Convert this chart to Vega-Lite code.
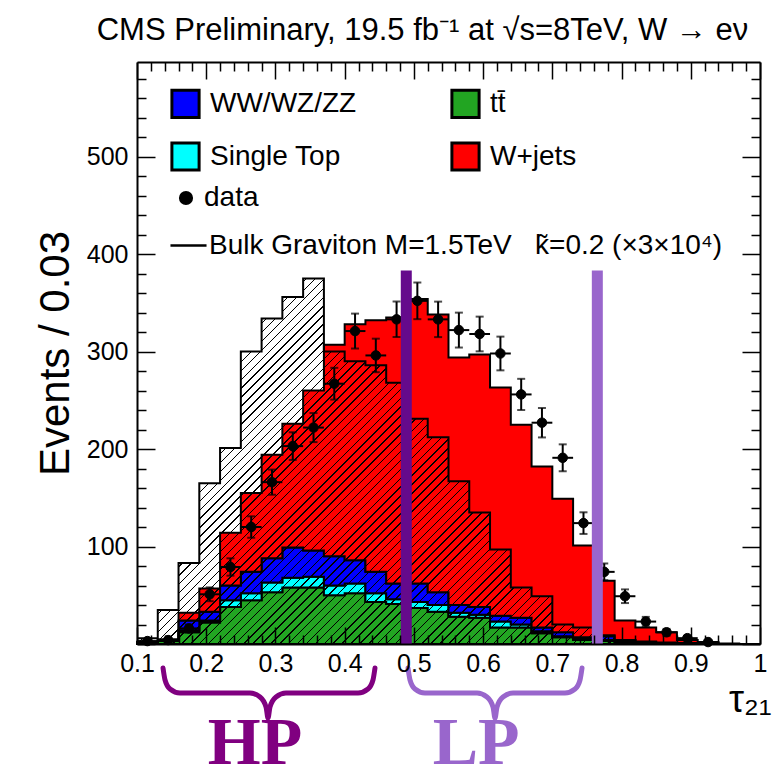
{
"$schema":"https://vega.github.io/schema/vega-lite/v6.json",
"width":623,"height":582,
"autosize":{"type":"none"},
"padding":{"left":137,"top":62,"right":14,"bottom":136},
"background":"white",
"config":{"view":{"stroke":null},"font":"Liberation Sans"},
"title":{"text":"CMS Preliminary, 19.5 fb⁻¹ at √s=8TeV, W → eν","anchor":"middle","frame":"group","dx":-26,"offset":-10,"baseline":"alphabetic","fontSize":31,"font":"Liberation Sans","fontWeight":"normal","color":"black"},
"datasets":{
"hist":[
{"x0":0.10,"x1":0.13,"xc":0.115,"1_ttbar":0.8,"2_singletop":0.1,"3_diboson":0.3,"4_wjets":1,"sig":6,"n":3,"nlo":1.3,"nhi":4.7},
{"x0":0.13,"x1":0.16,"xc":0.145,"1_ttbar":3,"2_singletop":0.5,"3_diboson":0.5,"4_wjets":1,"sig":35,"n":4,"nlo":2,"nhi":6},
{"x0":0.16,"x1":0.19,"xc":0.175,"1_ttbar":12,"2_singletop":2,"3_diboson":10,"4_wjets":8,"sig":83,"n":16,"nlo":12,"nhi":20},
{"x0":0.19,"x1":0.22,"xc":0.205,"1_ttbar":22,"2_singletop":2,"3_diboson":9,"4_wjets":24,"sig":165,"n":51,"nlo":43.9,"nhi":58.1},
{"x0":0.22,"x1":0.25,"xc":0.235,"1_ttbar":38,"2_singletop":7,"3_diboson":15,"4_wjets":54,"sig":201,"n":79,"nlo":70.1,"nhi":87.9},
{"x0":0.25,"x1":0.28,"xc":0.265,"1_ttbar":45,"2_singletop":7,"3_diboson":22,"4_wjets":81,"sig":300,"n":120,"nlo":109,"nhi":131},
{"x0":0.28,"x1":0.31,"xc":0.295,"1_ttbar":53,"2_singletop":10,"3_diboson":25,"4_wjets":106,"sig":334,"n":166,"nlo":153.1,"nhi":178.9},
{"x0":0.31,"x1":0.34,"xc":0.325,"1_ttbar":58,"2_singletop":10,"3_diboson":31,"4_wjets":127,"sig":356,"n":203,"nlo":188.8,"nhi":217.2},
{"x0":0.34,"x1":0.37,"xc":0.355,"1_ttbar":58,"2_singletop":11,"3_diboson":27,"4_wjets":164,"sig":375,"n":222,"nlo":207.1,"nhi":236.9},
{"x0":0.37,"x1":0.40,"xc":0.385,"1_ttbar":50,"2_singletop":10,"3_diboson":30,"4_wjets":217,"sig":300,"n":267,"nlo":250.7,"nhi":283.3},
{"x0":0.40,"x1":0.43,"xc":0.415,"1_ttbar":52,"2_singletop":10,"3_diboson":24,"4_wjets":242,"sig":290,"n":321,"nlo":303.1,"nhi":338.9},
{"x0":0.43,"x1":0.46,"xc":0.445,"1_ttbar":43,"2_singletop":9,"3_diboson":22,"4_wjets":258,"sig":286,"n":296,"nlo":278.8,"nhi":313.2},
{"x0":0.46,"x1":0.49,"xc":0.475,"1_ttbar":41,"2_singletop":5,"3_diboson":16,"4_wjets":273,"sig":268,"n":333,"nlo":314.8,"nhi":351.2},
{"x0":0.49,"x1":0.52,"xc":0.505,"1_ttbar":37,"2_singletop":6,"3_diboson":19,"4_wjets":292,"sig":231,"n":352,"nlo":333.2,"nhi":370.8},
{"x0":0.52,"x1":0.55,"xc":0.535,"1_ttbar":33,"2_singletop":7,"3_diboson":13,"4_wjets":285,"sig":212,"n":333,"nlo":314.8,"nhi":351.2},
{"x0":0.55,"x1":0.58,"xc":0.565,"1_ttbar":28,"2_singletop":4,"3_diboson":8,"4_wjets":254,"sig":167,"n":322,"nlo":304.1,"nhi":339.9},
{"x0":0.58,"x1":0.61,"xc":0.595,"1_ttbar":27,"2_singletop":3,"3_diboson":8,"4_wjets":259,"sig":135,"n":318,"nlo":300.2,"nhi":335.8},
{"x0":0.61,"x1":0.64,"xc":0.625,"1_ttbar":17,"2_singletop":6,"3_diboson":6,"4_wjets":234,"sig":97,"n":298,"nlo":280.7,"nhi":315.3},
{"x0":0.64,"x1":0.67,"xc":0.655,"1_ttbar":17,"2_singletop":3,"3_diboson":7,"4_wjets":198,"sig":58,"n":256,"nlo":240,"nhi":272},
{"x0":0.67,"x1":0.70,"xc":0.685,"1_ttbar":11,"2_singletop":2,"3_diboson":4,"4_wjets":165,"sig":49,"n":227,"nlo":211.9,"nhi":242.1},
{"x0":0.70,"x1":0.73,"xc":0.715,"1_ttbar":7,"2_singletop":1,"3_diboson":4,"4_wjets":137,"sig":20,"n":191,"nlo":177.2,"nhi":204.8},
{"x0":0.73,"x1":0.76,"xc":0.745,"1_ttbar":4,"2_singletop":1,"3_diboson":2,"4_wjets":94,"sig":17,"n":124,"nlo":112.9,"nhi":135.1},
{"x0":0.76,"x1":0.79,"xc":0.775,"1_ttbar":3,"2_singletop":1,"3_diboson":4,"4_wjets":57,"sig":9,"n":74,"nlo":65.4,"nhi":82.6},
{"x0":0.79,"x1":0.82,"xc":0.805,"1_ttbar":2,"2_singletop":0.5,"3_diboson":1.5,"4_wjets":20,"sig":4,"n":49,"nlo":42,"nhi":56},
{"x0":0.82,"x1":0.85,"xc":0.835,"1_ttbar":1,"2_singletop":0.5,"3_diboson":1,"4_wjets":14.5,"sig":2,"n":23,"nlo":18.2,"nhi":27.8},
{"x0":0.85,"x1":0.88,"xc":0.865,"1_ttbar":0.5,"2_singletop":0.3,"3_diboson":0.7,"4_wjets":10.5,"sig":1,"n":12,"nlo":8.5,"nhi":15.5},
{"x0":0.88,"x1":0.91,"xc":0.895,"1_ttbar":0.3,"2_singletop":0.2,"3_diboson":0.5,"4_wjets":3,"sig":0.5,"n":6,"nlo":3.6,"nhi":8.4},
{"x0":0.91,"x1":0.94,"xc":0.925,"1_ttbar":0.2,"2_singletop":0.1,"3_diboson":0.2,"4_wjets":1.5,"sig":0.3,"n":2,"nlo":0.6,"nhi":3.4},
{"x0":0.94,"x1":0.97,"xc":0.955,"1_ttbar":0,"2_singletop":0,"3_diboson":0,"4_wjets":0.5,"sig":0,"n":null,"nlo":null,"nhi":null},
{"x0":0.97,"x1":1.00,"xc":0.985,"1_ttbar":0,"2_singletop":0,"3_diboson":0,"4_wjets":0,"sig":0,"n":null,"nlo":null,"nhi":null},
{"x0":1.00,"x1":1.00,"xc":1.00,"1_ttbar":0,"2_singletop":0,"3_diboson":0,"4_wjets":0,"sig":0,"n":null,"nlo":null,"nhi":null}
],
"cuts":[{"x":0.489,"y":0,"y2":383,"r":"HP"},{"x":0.765,"y":0,"y2":383,"r":"LP"}],
"notes":[{"x":0.2705,"y":-123,"t":"HP"},{"x":0.59,"y":-123,"t":"LP"}],
"brace":[
{"g":"HP","x":0.1376,"y":-24.6},{"g":"HP","x":0.1405,"y":-36.9},{"g":"HP","x":0.1477,"y":-46.2},{"g":"HP","x":0.1621,"y":-50.3},{"g":"HP","x":0.2632,"y":-50.3},{"g":"HP","x":0.2777,"y":-54.4},{"g":"HP","x":0.2864,"y":-64.6},{"g":"HP","x":0.2893,"y":-75.9},{"g":"HP","x":0.2921,"y":-64.6},{"g":"HP","x":0.3008,"y":-54.4},{"g":"HP","x":0.3152,"y":-50.3},{"g":"HP","x":0.4193,"y":-50.3},{"g":"HP","x":0.4337,"y":-46.2},{"g":"HP","x":0.4409,"y":-36.9},{"g":"HP","x":0.4438,"y":-24.6},
{"g":"LP","x":0.4915,"y":-24.6},{"g":"LP","x":0.4944,"y":-36.9},{"g":"LP","x":0.5016,"y":-46.2},{"g":"LP","x":0.516,"y":-50.3},{"g":"LP","x":0.5912,"y":-50.3},{"g":"LP","x":0.6056,"y":-54.4},{"g":"LP","x":0.6143,"y":-64.6},{"g":"LP","x":0.6172,"y":-75.9},{"g":"LP","x":0.6201,"y":-64.6},{"g":"LP","x":0.6287,"y":-54.4},{"g":"LP","x":0.6432,"y":-50.3},{"g":"LP","x":0.7183,"y":-50.3},{"g":"LP","x":0.7328,"y":-46.2},{"g":"LP","x":0.74,"y":-36.9},{"g":"LP","x":0.7429,"y":-24.6}
]
},
"resolve":{"axis":{"x":"independent","y":"independent"}},
"layer":[
{"data":{"name":"hist"},
 "transform":[{"fold":["1_ttbar","2_singletop","3_diboson","4_wjets"],"as":["proc","val"]}],
 "mark":{"type":"area","interpolate":"step-after","stroke":"black","strokeWidth":2},
 "encoding":{
  "x":{"field":"x0","type":"quantitative","scale":{"domain":[0.1,1.0],"nice":false,"zero":false},
   "axis":{"orient":"bottom","values":[0.1,0.12,0.14,0.16,0.18,0.2,0.22,0.24,0.26,0.28,0.3,0.32,0.34,0.36,0.38,0.4,0.42,0.44,0.46,0.48,0.5,0.52,0.54,0.56,0.58,0.6,0.62,0.64,0.66,0.68,0.7,0.72,0.74,0.76,0.78,0.8,0.82,0.84,0.86,0.88,0.9,0.92,0.94,0.96,0.98,1.0],
    "labelExpr":"abs(datum.value*10-round(datum.value*10))<0.001 ? format(datum.value,'.1~f') : ''",
    "tickSize":{"condition":{"test":"abs(datum.value*10-round(datum.value*10))<0.001","value":-17},"value":-9},
    "tickColor":"black","tickWidth":1.5,"domain":true,"domainColor":"black","domainWidth":2,"grid":false,"zindex":1,
    "labelFontSize":25,"labelFont":"Liberation Sans","labelColor":"black","labelPadding":24,"labelFlush":false,"labelOverlap":false,"labelBound":false,
    "title":"τ₂₁","titleFontSize":38,"titleFont":"Liberation Sans","titleFontWeight":"normal","titleColor":"black","titleAlign":"right","titleX":634,"titleY":67,"titleBaseline":"alphabetic","titleAngle":0}},
  "y":{"field":"val","type":"quantitative","stack":"zero","scale":{"domain":[0,597],"nice":false},
   "axis":{"orient":"left","values":[0,20,40,60,80,100,120,140,160,180,200,220,240,260,280,300,320,340,360,380,400,420,440,460,480,500,520,540,560,580],
    "labelExpr":"datum.value % 100 === 0 && datum.value > 0 ? datum.label : ''",
    "tickSize":{"condition":{"test":"datum.value % 100 === 0","value":-18},"value":-9},
    "tickColor":"black","tickWidth":1.5,"domain":true,"domainColor":"black","domainWidth":2,"grid":false,"zindex":1,
    "labelFontSize":25,"labelFont":"Liberation Sans","labelColor":"black","labelPadding":27,"labelOverlap":false,"labelBound":false,"labelFlush":false,
    "title":"Events / 0.03","titleFontSize":42,"titleFont":"Liberation Sans","titleFontWeight":"normal","titleColor":"black","titleX":-82,"titleY":291,"titleAngle":-90,"titleBaseline":"middle","titleAlign":"center"}},
  "fill":{"field":"proc","type":"nominal","scale":{"domain":["3_diboson","2_singletop","1_ttbar","4_wjets"],"range":["#0000ff","#00ffff","#22a522","#ff0000"]},
   "legend":{"orient":"none","legendX":33,"legendY":26,"columns":2,"columnPadding":88,"rowPadding":12,"padding":0,"symbolType":"square","symbolSize":740,"symbolStrokeColor":"black","symbolStrokeWidth":3,"symbolOpacity":1,"labelFontSize":28,"labelFont":"Liberation Sans","labelColor":"black","labelOffset":9,"labelLimit":400,"title":null,
    "labelExpr":"datum.label == '3_diboson' ? 'WW/WZ/ZZ' : datum.label == '1_ttbar' ? 'tt̄' : datum.label == '2_singletop' ? 'Single Top' : 'W+jets'"}},
  "order":{"field":"proc","type":"ordinal","sort":"ascending"}
 }},
{"data":{"name":"hist"},
 "mark":{"type":"area","interpolate":"step-after","strokeWidth":0,
  "fill":{"gradient":"linear","x1":0,"y1":0,"x2":1.1804,"y2":0.6927,"stops":[
{"offset":0,"color":"#000"},{"offset":0.0015,"color":"#000"},{"offset":0.0015,"color":"transparent"},
{"offset":0.009,"color":"transparent"},{"offset":0.009,"color":"#000"},{"offset":0.0105,"color":"#000"},{"offset":0.0105,"color":"transparent"},
{"offset":0.018,"color":"transparent"},{"offset":0.018,"color":"#000"},{"offset":0.0195,"color":"#000"},{"offset":0.0195,"color":"transparent"},
{"offset":0.027,"color":"transparent"},{"offset":0.027,"color":"#000"},{"offset":0.0285,"color":"#000"},{"offset":0.0285,"color":"transparent"},
{"offset":0.036,"color":"transparent"},{"offset":0.036,"color":"#000"},{"offset":0.0375,"color":"#000"},{"offset":0.0375,"color":"transparent"},
{"offset":0.045,"color":"transparent"},{"offset":0.045,"color":"#000"},{"offset":0.0465,"color":"#000"},{"offset":0.0465,"color":"transparent"},
{"offset":0.054,"color":"transparent"},{"offset":0.054,"color":"#000"},{"offset":0.0555,"color":"#000"},{"offset":0.0555,"color":"transparent"},
{"offset":0.063,"color":"transparent"},{"offset":0.063,"color":"#000"},{"offset":0.0645,"color":"#000"},{"offset":0.0645,"color":"transparent"},
{"offset":0.072,"color":"transparent"},{"offset":0.072,"color":"#000"},{"offset":0.0735,"color":"#000"},{"offset":0.0735,"color":"transparent"},
{"offset":0.081,"color":"transparent"},{"offset":0.081,"color":"#000"},{"offset":0.0825,"color":"#000"},{"offset":0.0825,"color":"transparent"},
{"offset":0.09,"color":"transparent"},{"offset":0.09,"color":"#000"},{"offset":0.0915,"color":"#000"},{"offset":0.0915,"color":"transparent"},
{"offset":0.099,"color":"transparent"},{"offset":0.099,"color":"#000"},{"offset":0.1005,"color":"#000"},{"offset":0.1005,"color":"transparent"},
{"offset":0.108,"color":"transparent"},{"offset":0.108,"color":"#000"},{"offset":0.1095,"color":"#000"},{"offset":0.1095,"color":"transparent"},
{"offset":0.117,"color":"transparent"},{"offset":0.117,"color":"#000"},{"offset":0.1185,"color":"#000"},{"offset":0.1185,"color":"transparent"},
{"offset":0.126,"color":"transparent"},{"offset":0.126,"color":"#000"},{"offset":0.1275,"color":"#000"},{"offset":0.1275,"color":"transparent"},
{"offset":0.135,"color":"transparent"},{"offset":0.135,"color":"#000"},{"offset":0.1365,"color":"#000"},{"offset":0.1365,"color":"transparent"},
{"offset":0.144,"color":"transparent"},{"offset":0.144,"color":"#000"},{"offset":0.1455,"color":"#000"},{"offset":0.1455,"color":"transparent"},
{"offset":0.153,"color":"transparent"},{"offset":0.153,"color":"#000"},{"offset":0.1545,"color":"#000"},{"offset":0.1545,"color":"transparent"},
{"offset":0.162,"color":"transparent"},{"offset":0.162,"color":"#000"},{"offset":0.1635,"color":"#000"},{"offset":0.1635,"color":"transparent"},
{"offset":0.171,"color":"transparent"},{"offset":0.171,"color":"#000"},{"offset":0.1725,"color":"#000"},{"offset":0.1725,"color":"transparent"},
{"offset":0.18,"color":"transparent"},{"offset":0.18,"color":"#000"},{"offset":0.1815,"color":"#000"},{"offset":0.1815,"color":"transparent"},
{"offset":0.189,"color":"transparent"},{"offset":0.189,"color":"#000"},{"offset":0.1905,"color":"#000"},{"offset":0.1905,"color":"transparent"},
{"offset":0.198,"color":"transparent"},{"offset":0.198,"color":"#000"},{"offset":0.1995,"color":"#000"},{"offset":0.1995,"color":"transparent"},
{"offset":0.207,"color":"transparent"},{"offset":0.207,"color":"#000"},{"offset":0.2085,"color":"#000"},{"offset":0.2085,"color":"transparent"},
{"offset":0.216,"color":"transparent"},{"offset":0.216,"color":"#000"},{"offset":0.2175,"color":"#000"},{"offset":0.2175,"color":"transparent"},
{"offset":0.225,"color":"transparent"},{"offset":0.225,"color":"#000"},{"offset":0.2265,"color":"#000"},{"offset":0.2265,"color":"transparent"},
{"offset":0.234,"color":"transparent"},{"offset":0.234,"color":"#000"},{"offset":0.2355,"color":"#000"},{"offset":0.2355,"color":"transparent"},
{"offset":0.243,"color":"transparent"},{"offset":0.243,"color":"#000"},{"offset":0.2445,"color":"#000"},{"offset":0.2445,"color":"transparent"},
{"offset":0.252,"color":"transparent"},{"offset":0.252,"color":"#000"},{"offset":0.2535,"color":"#000"},{"offset":0.2535,"color":"transparent"},
{"offset":0.261,"color":"transparent"},{"offset":0.261,"color":"#000"},{"offset":0.2625,"color":"#000"},{"offset":0.2625,"color":"transparent"},
{"offset":0.27,"color":"transparent"},{"offset":0.27,"color":"#000"},{"offset":0.2715,"color":"#000"},{"offset":0.2715,"color":"transparent"},
{"offset":0.279,"color":"transparent"},{"offset":0.279,"color":"#000"},{"offset":0.2805,"color":"#000"},{"offset":0.2805,"color":"transparent"},
{"offset":0.288,"color":"transparent"},{"offset":0.288,"color":"#000"},{"offset":0.2895,"color":"#000"},{"offset":0.2895,"color":"transparent"},
{"offset":0.297,"color":"transparent"},{"offset":0.297,"color":"#000"},{"offset":0.2985,"color":"#000"},{"offset":0.2985,"color":"transparent"},
{"offset":0.306,"color":"transparent"},{"offset":0.306,"color":"#000"},{"offset":0.3075,"color":"#000"},{"offset":0.3075,"color":"transparent"},
{"offset":0.315,"color":"transparent"},{"offset":0.315,"color":"#000"},{"offset":0.3165,"color":"#000"},{"offset":0.3165,"color":"transparent"},
{"offset":0.324,"color":"transparent"},{"offset":0.324,"color":"#000"},{"offset":0.3255,"color":"#000"},{"offset":0.3255,"color":"transparent"},
{"offset":0.333,"color":"transparent"},{"offset":0.333,"color":"#000"},{"offset":0.3345,"color":"#000"},{"offset":0.3345,"color":"transparent"},
{"offset":0.342,"color":"transparent"},{"offset":0.342,"color":"#000"},{"offset":0.3435,"color":"#000"},{"offset":0.3435,"color":"transparent"},
{"offset":0.351,"color":"transparent"},{"offset":0.351,"color":"#000"},{"offset":0.3525,"color":"#000"},{"offset":0.3525,"color":"transparent"},
{"offset":0.36,"color":"transparent"},{"offset":0.36,"color":"#000"},{"offset":0.3615,"color":"#000"},{"offset":0.3615,"color":"transparent"},
{"offset":0.369,"color":"transparent"},{"offset":0.369,"color":"#000"},{"offset":0.3705,"color":"#000"},{"offset":0.3705,"color":"transparent"},
{"offset":0.378,"color":"transparent"},{"offset":0.378,"color":"#000"},{"offset":0.3795,"color":"#000"},{"offset":0.3795,"color":"transparent"},
{"offset":0.387,"color":"transparent"},{"offset":0.387,"color":"#000"},{"offset":0.3885,"color":"#000"},{"offset":0.3885,"color":"transparent"},
{"offset":0.396,"color":"transparent"},{"offset":0.396,"color":"#000"},{"offset":0.3975,"color":"#000"},{"offset":0.3975,"color":"transparent"},
{"offset":0.405,"color":"transparent"},{"offset":0.405,"color":"#000"},{"offset":0.4065,"color":"#000"},{"offset":0.4065,"color":"transparent"},
{"offset":0.414,"color":"transparent"},{"offset":0.414,"color":"#000"},{"offset":0.4155,"color":"#000"},{"offset":0.4155,"color":"transparent"},
{"offset":0.423,"color":"transparent"},{"offset":0.423,"color":"#000"},{"offset":0.4245,"color":"#000"},{"offset":0.4245,"color":"transparent"},
{"offset":0.432,"color":"transparent"},{"offset":0.432,"color":"#000"},{"offset":0.4335,"color":"#000"},{"offset":0.4335,"color":"transparent"},
{"offset":0.441,"color":"transparent"},{"offset":0.441,"color":"#000"},{"offset":0.4425,"color":"#000"},{"offset":0.4425,"color":"transparent"},
{"offset":0.45,"color":"transparent"},{"offset":0.45,"color":"#000"},{"offset":0.4515,"color":"#000"},{"offset":0.4515,"color":"transparent"},
{"offset":0.459,"color":"transparent"},{"offset":0.459,"color":"#000"},{"offset":0.4605,"color":"#000"},{"offset":0.4605,"color":"transparent"},
{"offset":0.468,"color":"transparent"},{"offset":0.468,"color":"#000"},{"offset":0.4695,"color":"#000"},{"offset":0.4695,"color":"transparent"},
{"offset":0.477,"color":"transparent"},{"offset":0.477,"color":"#000"},{"offset":0.4785,"color":"#000"},{"offset":0.4785,"color":"transparent"},
{"offset":0.486,"color":"transparent"},{"offset":0.486,"color":"#000"},{"offset":0.4875,"color":"#000"},{"offset":0.4875,"color":"transparent"},
{"offset":0.495,"color":"transparent"},{"offset":0.495,"color":"#000"},{"offset":0.4965,"color":"#000"},{"offset":0.4965,"color":"transparent"},
{"offset":0.504,"color":"transparent"},{"offset":0.504,"color":"#000"},{"offset":0.5055,"color":"#000"},{"offset":0.5055,"color":"transparent"},
{"offset":0.513,"color":"transparent"},{"offset":0.513,"color":"#000"},{"offset":0.5145,"color":"#000"},{"offset":0.5145,"color":"transparent"},
{"offset":0.522,"color":"transparent"},{"offset":0.522,"color":"#000"},{"offset":0.5235,"color":"#000"},{"offset":0.5235,"color":"transparent"},
{"offset":0.531,"color":"transparent"},{"offset":0.531,"color":"#000"},{"offset":0.5325,"color":"#000"},{"offset":0.5325,"color":"transparent"},
{"offset":0.54,"color":"transparent"},{"offset":0.54,"color":"#000"},{"offset":0.5415,"color":"#000"},{"offset":0.5415,"color":"transparent"},
{"offset":0.549,"color":"transparent"},{"offset":0.549,"color":"#000"},{"offset":0.5505,"color":"#000"},{"offset":0.5505,"color":"transparent"},
{"offset":0.558,"color":"transparent"},{"offset":0.558,"color":"#000"},{"offset":0.5595,"color":"#000"},{"offset":0.5595,"color":"transparent"},
{"offset":0.567,"color":"transparent"},{"offset":0.567,"color":"#000"},{"offset":0.5685,"color":"#000"},{"offset":0.5685,"color":"transparent"},
{"offset":0.576,"color":"transparent"},{"offset":0.576,"color":"#000"},{"offset":0.5775,"color":"#000"},{"offset":0.5775,"color":"transparent"},
{"offset":0.585,"color":"transparent"},{"offset":0.585,"color":"#000"},{"offset":0.5865,"color":"#000"},{"offset":0.5865,"color":"transparent"},
{"offset":0.594,"color":"transparent"},{"offset":0.594,"color":"#000"},{"offset":0.5955,"color":"#000"},{"offset":0.5955,"color":"transparent"},
{"offset":0.603,"color":"transparent"},{"offset":0.603,"color":"#000"},{"offset":0.6045,"color":"#000"},{"offset":0.6045,"color":"transparent"},
{"offset":0.612,"color":"transparent"},{"offset":0.612,"color":"#000"},{"offset":0.6135,"color":"#000"},{"offset":0.6135,"color":"transparent"},
{"offset":0.621,"color":"transparent"},{"offset":0.621,"color":"#000"},{"offset":0.6225,"color":"#000"},{"offset":0.6225,"color":"transparent"},
{"offset":0.63,"color":"transparent"},{"offset":0.63,"color":"#000"},{"offset":0.6315,"color":"#000"},{"offset":0.6315,"color":"transparent"},
{"offset":0.639,"color":"transparent"},{"offset":0.639,"color":"#000"},{"offset":0.6405,"color":"#000"},{"offset":0.6405,"color":"transparent"},
{"offset":0.648,"color":"transparent"},{"offset":0.648,"color":"#000"},{"offset":0.6495,"color":"#000"},{"offset":0.6495,"color":"transparent"},
{"offset":0.657,"color":"transparent"},{"offset":0.657,"color":"#000"},{"offset":0.6585,"color":"#000"},{"offset":0.6585,"color":"transparent"},
{"offset":0.666,"color":"transparent"},{"offset":0.666,"color":"#000"},{"offset":0.6675,"color":"#000"},{"offset":0.6675,"color":"transparent"},
{"offset":0.675,"color":"transparent"},{"offset":0.675,"color":"#000"},{"offset":0.6765,"color":"#000"},{"offset":0.6765,"color":"transparent"},
{"offset":0.684,"color":"transparent"},{"offset":0.684,"color":"#000"},{"offset":0.6855,"color":"#000"},{"offset":0.6855,"color":"transparent"},
{"offset":0.693,"color":"transparent"},{"offset":0.693,"color":"#000"},{"offset":0.6945,"color":"#000"},{"offset":0.6945,"color":"transparent"},
{"offset":0.702,"color":"transparent"},{"offset":0.702,"color":"#000"},{"offset":0.7035,"color":"#000"},{"offset":0.7035,"color":"transparent"},
{"offset":0.711,"color":"transparent"},{"offset":0.711,"color":"#000"},{"offset":0.7125,"color":"#000"},{"offset":0.7125,"color":"transparent"},
{"offset":0.72,"color":"transparent"},{"offset":0.72,"color":"#000"},{"offset":0.7215,"color":"#000"},{"offset":0.7215,"color":"transparent"},
{"offset":0.729,"color":"transparent"},{"offset":0.729,"color":"#000"},{"offset":0.7305,"color":"#000"},{"offset":0.7305,"color":"transparent"},
{"offset":0.738,"color":"transparent"},{"offset":0.738,"color":"#000"},{"offset":0.7395,"color":"#000"},{"offset":0.7395,"color":"transparent"},
{"offset":0.747,"color":"transparent"},{"offset":0.747,"color":"#000"},{"offset":0.7485,"color":"#000"},{"offset":0.7485,"color":"transparent"},
{"offset":0.756,"color":"transparent"},{"offset":0.756,"color":"#000"},{"offset":0.7575,"color":"#000"},{"offset":0.7575,"color":"transparent"},
{"offset":0.765,"color":"transparent"},{"offset":0.765,"color":"#000"},{"offset":0.7665,"color":"#000"},{"offset":0.7665,"color":"transparent"},
{"offset":0.774,"color":"transparent"},{"offset":0.774,"color":"#000"},{"offset":0.7755,"color":"#000"},{"offset":0.7755,"color":"transparent"},
{"offset":0.783,"color":"transparent"},{"offset":0.783,"color":"#000"},{"offset":0.7845,"color":"#000"},{"offset":0.7845,"color":"transparent"},
{"offset":0.792,"color":"transparent"},{"offset":0.792,"color":"#000"},{"offset":0.7935,"color":"#000"},{"offset":0.7935,"color":"transparent"},
{"offset":0.801,"color":"transparent"},{"offset":0.801,"color":"#000"},{"offset":0.8025,"color":"#000"},{"offset":0.8025,"color":"transparent"},
{"offset":0.81,"color":"transparent"},{"offset":0.81,"color":"#000"},{"offset":0.8115,"color":"#000"},{"offset":0.8115,"color":"transparent"},
{"offset":0.819,"color":"transparent"},{"offset":0.819,"color":"#000"},{"offset":0.8205,"color":"#000"},{"offset":0.8205,"color":"transparent"},
{"offset":0.828,"color":"transparent"},{"offset":0.828,"color":"#000"},{"offset":0.8295,"color":"#000"},{"offset":0.8295,"color":"transparent"},
{"offset":0.837,"color":"transparent"},{"offset":0.837,"color":"#000"},{"offset":0.8385,"color":"#000"},{"offset":0.8385,"color":"transparent"},
{"offset":0.846,"color":"transparent"},{"offset":0.846,"color":"#000"},{"offset":0.8475,"color":"#000"},{"offset":0.8475,"color":"transparent"},
{"offset":0.855,"color":"transparent"},{"offset":0.855,"color":"#000"},{"offset":0.8565,"color":"#000"},{"offset":0.8565,"color":"transparent"},
{"offset":0.864,"color":"transparent"},{"offset":0.864,"color":"#000"},{"offset":0.8655,"color":"#000"},{"offset":0.8655,"color":"transparent"},
{"offset":0.873,"color":"transparent"},{"offset":0.873,"color":"#000"},{"offset":0.8745,"color":"#000"},{"offset":0.8745,"color":"transparent"},
{"offset":0.882,"color":"transparent"},{"offset":0.882,"color":"#000"},{"offset":0.8835,"color":"#000"},{"offset":0.8835,"color":"transparent"},
{"offset":0.891,"color":"transparent"},{"offset":0.891,"color":"#000"},{"offset":0.8925,"color":"#000"},{"offset":0.8925,"color":"transparent"},
{"offset":0.9,"color":"transparent"},{"offset":0.9,"color":"#000"},{"offset":0.9015,"color":"#000"},{"offset":0.9015,"color":"transparent"},
{"offset":0.909,"color":"transparent"},{"offset":0.909,"color":"#000"},{"offset":0.9105,"color":"#000"},{"offset":0.9105,"color":"transparent"},
{"offset":0.918,"color":"transparent"},{"offset":0.918,"color":"#000"},{"offset":0.9195,"color":"#000"},{"offset":0.9195,"color":"transparent"},
{"offset":0.927,"color":"transparent"},{"offset":0.927,"color":"#000"},{"offset":0.9285,"color":"#000"},{"offset":0.9285,"color":"transparent"},
{"offset":0.936,"color":"transparent"},{"offset":0.936,"color":"#000"},{"offset":0.9375,"color":"#000"},{"offset":0.9375,"color":"transparent"},
{"offset":0.945,"color":"transparent"},{"offset":0.945,"color":"#000"},{"offset":0.9465,"color":"#000"},{"offset":0.9465,"color":"transparent"},
{"offset":0.954,"color":"transparent"},{"offset":0.954,"color":"#000"},{"offset":0.9555,"color":"#000"},{"offset":0.9555,"color":"transparent"},
{"offset":0.963,"color":"transparent"},{"offset":0.963,"color":"#000"},{"offset":0.9645,"color":"#000"},{"offset":0.9645,"color":"transparent"},
{"offset":0.972,"color":"transparent"},{"offset":0.972,"color":"#000"},{"offset":0.9735,"color":"#000"},{"offset":0.9735,"color":"transparent"},
{"offset":0.981,"color":"transparent"},{"offset":0.981,"color":"#000"},{"offset":0.9825,"color":"#000"},{"offset":0.9825,"color":"transparent"},
{"offset":0.99,"color":"transparent"},{"offset":0.99,"color":"#000"},{"offset":0.9915,"color":"#000"},{"offset":0.9915,"color":"transparent"},{"offset":1,"color":"transparent"}
 ]}},
 "encoding":{
  "x":{"field":"x0","type":"quantitative","scale":{"domain":[0.1,1.0],"nice":false,"zero":false},
   "axis":{"orient":"top","values":[0.1,0.12,0.14,0.16,0.18,0.2,0.22,0.24,0.26,0.28,0.3,0.32,0.34,0.36,0.38,0.4,0.42,0.44,0.46,0.48,0.5,0.52,0.54,0.56,0.58,0.6,0.62,0.64,0.66,0.68,0.7,0.72,0.74,0.76,0.78,0.8,0.82,0.84,0.86,0.88,0.9,0.92,0.94,0.96,0.98,1.0],
    "labels":false,"title":null,"grid":false,"zindex":1,"domain":true,"domainColor":"black","domainWidth":2,"tickColor":"black","tickWidth":1.5,
    "tickSize":{"condition":{"test":"abs(datum.value*10-round(datum.value*10))<0.001","value":-17},"value":-9}}},
  "y":{"field":"sig","type":"quantitative","stack":null,"scale":{"domain":[0,597],"nice":false},
   "axis":{"orient":"right","values":[0,20,40,60,80,100,120,140,160,180,200,220,240,260,280,300,320,340,360,380,400,420,440,460,480,500,520,540,560,580],
    "labels":false,"title":null,"grid":false,"zindex":1,"domain":true,"domainColor":"black","domainWidth":2,"tickColor":"black","tickWidth":1.5,
    "tickSize":{"condition":{"test":"datum.value % 100 === 0","value":-18},"value":-9}}}
 }},
{"data":{"name":"hist"},
 "mark":{"type":"line","interpolate":"step-after","strokeWidth":2},
 "encoding":{
  "x":{"field":"x0","type":"quantitative","scale":{"domain":[0.1,1.0],"nice":false,"zero":false},"axis":null},
  "y":{"field":"sig","type":"quantitative","stack":null,"scale":{"domain":[0,597],"nice":false},"axis":null},
  "stroke":{"datum":"Bulk Graviton M=1.5TeV\u00a0\u00a0\u00a0k̃=0.2 (×3×10⁴)","type":"nominal","scale":{"domain":["Bulk Graviton M=1.5TeV\u00a0\u00a0\u00a0k̃=0.2 (×3×10⁴)"],"range":["black"]},
   "legend":{"orient":"none","legendX":32,"legendY":164,"padding":0,"symbolType":"stroke","symbolSize":1300,"symbolStrokeWidth":2.5,"symbolOpacity":1,"labelFontSize":28,"labelFont":"Liberation Sans","labelColor":"black","labelOffset":1,"labelLimit":700,"title":null}}
 }},
{"data":{"name":"hist"},"transform":[{"filter":"datum.n != null"}],
 "mark":{"type":"rule","color":"black","strokeWidth":2},
 "encoding":{"x":{"field":"xc","type":"quantitative","scale":{"domain":[0.1,1.0],"nice":false,"zero":false},"axis":null},
  "y":{"field":"nlo","type":"quantitative","scale":{"domain":[0,597],"nice":false},"axis":null},"y2":{"field":"nhi"}}},
{"data":{"name":"hist"},"transform":[{"filter":"datum.n != null"}],
 "mark":{"type":"rule","color":"black","strokeWidth":2},
 "encoding":{"x":{"field":"x0","type":"quantitative","scale":{"domain":[0.1,1.0],"nice":false,"zero":false},"axis":null},"x2":{"field":"x1"},
  "y":{"field":"n","type":"quantitative","scale":{"domain":[0,597],"nice":false},"axis":null}}},
{"data":{"name":"hist"},"transform":[{"filter":"datum.n != null"}],
 "mark":{"type":"tick","color":"black","orient":"horizontal","size":8,"thickness":2},
 "encoding":{"x":{"field":"xc","type":"quantitative","scale":{"domain":[0.1,1.0],"nice":false,"zero":false},"axis":null},
  "y":{"field":"nhi","type":"quantitative","scale":{"domain":[0,597],"nice":false},"axis":null}}},
{"data":{"name":"hist"},"transform":[{"filter":"datum.n != null"}],
 "mark":{"type":"tick","color":"black","orient":"horizontal","size":8,"thickness":2},
 "encoding":{"x":{"field":"xc","type":"quantitative","scale":{"domain":[0.1,1.0],"nice":false,"zero":false},"axis":null},
  "y":{"field":"nlo","type":"quantitative","scale":{"domain":[0,597],"nice":false},"axis":null}}},
{"data":{"name":"hist"},"transform":[{"filter":"datum.n != null"}],
 "mark":{"type":"point","filled":true,"fill":"black","stroke":"black","strokeWidth":1,"size":90,"opacity":1},
 "encoding":{"x":{"field":"xc","type":"quantitative","scale":{"domain":[0.1,1.0],"nice":false,"zero":false},"axis":null},
  "y":{"field":"n","type":"quantitative","scale":{"domain":[0,597],"nice":false},"axis":null},
  "shape":{"datum":"data","type":"nominal","scale":{"domain":["data"],"range":["circle"]},
   "legend":{"orient":"none","legendX":35,"legendY":122,"padding":0,"symbolSize":200,"symbolFillColor":"black","symbolStrokeColor":"black","symbolStrokeWidth":1,"symbolOpacity":1,"labelFontSize":28,"labelFont":"Liberation Sans","labelColor":"black","labelOffset":4,"labelLimit":700,"title":null}}}},
{"data":{"name":"cuts"},"transform":[{"filter":"datum.r == 'HP'"}],
 "mark":{"type":"rule","color":"#650a8c","strokeWidth":11},
 "encoding":{"x":{"field":"x","type":"quantitative","scale":{"domain":[0.1,1.0],"nice":false,"zero":false},"axis":null},
  "y":{"field":"y","type":"quantitative","scale":{"domain":[0,597],"nice":false},"axis":null},"y2":{"field":"y2"}}},
{"data":{"name":"cuts"},"transform":[{"filter":"datum.r == 'LP'"}],
 "mark":{"type":"rule","color":"#9966cc","strokeWidth":11},
 "encoding":{"x":{"field":"x","type":"quantitative","scale":{"domain":[0.1,1.0],"nice":false,"zero":false},"axis":null},
  "y":{"field":"y","type":"quantitative","scale":{"domain":[0,597],"nice":false},"axis":null},"y2":{"field":"y2"}}},
{"data":{"name":"brace"},"transform":[{"filter":"datum.g == 'HP'"}],
 "mark":{"type":"line","color":"#800080","strokeWidth":5,"strokeCap":"round","interpolate":"monotone"},
 "encoding":{"x":{"field":"x","type":"quantitative","scale":{"domain":[0.1,1.0],"nice":false,"zero":false},"axis":null},
  "y":{"field":"y","type":"quantitative","scale":{"domain":[0,597],"nice":false},"axis":null}}},
{"data":{"name":"brace"},"transform":[{"filter":"datum.g == 'LP'"}],
 "mark":{"type":"line","color":"#9966cc","strokeWidth":5,"strokeCap":"round","interpolate":"monotone"},
 "encoding":{"x":{"field":"x","type":"quantitative","scale":{"domain":[0.1,1.0],"nice":false,"zero":false},"axis":null},
  "y":{"field":"y","type":"quantitative","scale":{"domain":[0,597],"nice":false},"axis":null}}},
{"data":{"name":"notes"},"transform":[{"filter":"datum.t == 'HP'"}],
 "mark":{"type":"text","color":"#800080","font":"Liberation Serif","fontWeight":"bold","fontSize":68,"align":"center","baseline":"alphabetic"},
 "encoding":{"x":{"field":"x","type":"quantitative","scale":{"domain":[0.1,1.0],"nice":false,"zero":false},"axis":null},
  "y":{"field":"y","type":"quantitative","scale":{"domain":[0,597],"nice":false},"axis":null},"text":{"field":"t"}}},
{"data":{"name":"notes"},"transform":[{"filter":"datum.t == 'LP'"}],
 "mark":{"type":"text","color":"#9966cc","font":"Liberation Serif","fontWeight":"bold","fontSize":68,"align":"center","baseline":"alphabetic"},
 "encoding":{"x":{"field":"x","type":"quantitative","scale":{"domain":[0.1,1.0],"nice":false,"zero":false},"axis":null},
  "y":{"field":"y","type":"quantitative","scale":{"domain":[0,597],"nice":false},"axis":null},"text":{"field":"t"}}}
]
}
